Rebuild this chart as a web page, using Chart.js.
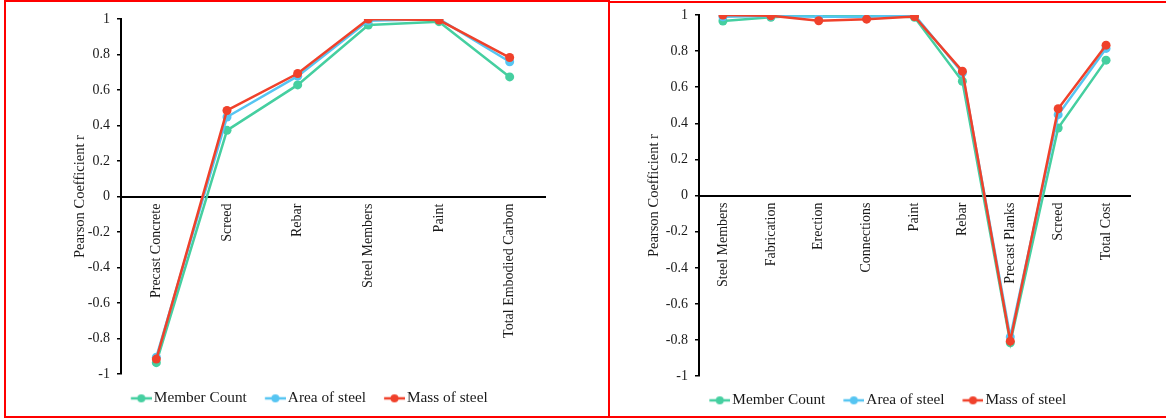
<!DOCTYPE html>
<html>
<head>
<meta charset="utf-8">
<script src="https://cdn.jsdelivr.net/npm/chart.js@4/dist/chart.umd.min.js"></script>
<style>
  body { margin: 0; background: #fff; width: 1166px; height: 419px; overflow: hidden; position: relative; }
  .frame { position: absolute; box-sizing: border-box; }
  #frameLeft { left: 4px; top: 0px; width: 606px; height: 418px; border: 2px solid #f00; }
  #lineTop { left: 609px; top: 1px; width: 557px; height: 2px; background: #f00; }
  #lineBottom { left: 609px; top: 416px; width: 557px; height: 2px; background: #f00; }
  .box { position: absolute; }
  #boxLeft { left: 6px; top: 4px; width: 600px; height: 412px; }
  #boxRight { left: 611px; top: 4px; width: 555px; height: 414px; }
</style>
</head>
<body>
<div class="frame" id="frameLeft"></div>
<div class="frame" id="lineTop"></div>
<div class="frame" id="lineBottom"></div>
<div class="box" id="boxLeft"><canvas id="chartLeft"></canvas></div>
<div class="box" id="boxRight"><canvas id="chartRight"></canvas></div>
<script>
// Datos de la gráfica izquierda (carbono incorporado)
const carbonLabels = ['Precast Concrete', 'Screed', 'Rebar', 'Steel Members', 'Paint', 'Total Embodied Carbon'];
const carbonMemberCount = [-0.935, 0.373, 0.629, 0.966, 0.985, 0.674];
const carbonAreaSteel = [-0.904, 0.448, 0.678, 0.99, 1.0, 0.759];
const carbonMassSteel = [-0.915, 0.485, 0.693, 1.0, 0.994, 0.783];

// Datos de la gráfica derecha (coste)
const costLabels = ['Steel Members', 'Fabrication', 'Erection', 'Connections', 'Paint', 'Rebar', 'Precast Planks', 'Screed', 'Total Cost'];
const costMemberCount = [0.967, 0.987, 1.0, 1.0, 0.987, 0.633, -0.815, 0.374, 0.75];
const costAreaSteel = [0.99, 0.994, 0.99, 0.99, 1.0, 0.68, -0.783, 0.448, 0.815];
const costMassSteel = [1.0, 0.996, 0.968, 0.977, 0.992, 0.689, -0.806, 0.481, 0.833];

const yTicks = { min: -1, max: 1, step: 0.2 };
const seriesNames = ['Member Count', 'Area of steel', 'Mass of steel'];
const seriesColors = ['#45cfa0', '#56c5f2', '#f0412b'];

const FONT = '"Liberation Serif", "Times New Roman", serif';
const TEXT = '#1a1a1a';
const LEGEND_SIZE = 15.3;
const LEGEND_PAD = 16.5;
const LEGEND_BOX = 33.35 - LEGEND_PAD;

// Icono de la leyenda: línea con un punto, pegada al texto
function legendIcon(color) {
    const w = Math.round(LEGEND_BOX + 11.3);
    const start = LEGEND_BOX - 9.7;
    const c = document.createElement('canvas');
    c.width = w;
    c.height = 10;
    const g = c.getContext('2d');
    g.strokeStyle = color;
    g.lineWidth = 2.5;
    g.beginPath();
    g.moveTo(start, 5);
    g.lineTo(w, 5);
    g.stroke();
    g.fillStyle = color;
    g.beginPath();
    g.arc((start + w) / 2, 5, 4, 0, Math.PI * 2);
    g.fill();
    return c;
}

function renderChart(canvasId, labels, series, layout) {
    const datasets = series.map((values, i) => ({
        label: seriesNames[i],
        data: values,
        borderColor: seriesColors[i],
        backgroundColor: seriesColors[i],
        borderWidth: 2.5,
        pointRadius: 4.5,
        pointHoverRadius: 4.5,
        pointBorderWidth: 0,
        tension: 0,
        order: 3 - i, // la serie roja encima
    }));

    const config = {
        type: 'line',
        data: { labels: labels, datasets: datasets },
        options: {
            responsive: true,
            maintainAspectRatio: false,
            animation: false,
            layout: { padding: layout.padding },
            plugins: {
                tooltip: { enabled: false },
                legend: {
                    position: 'bottom',
                    labels: {
                        usePointStyle: true,
                        pointStyleWidth: LEGEND_BOX,
                        padding: LEGEND_PAD,
                        color: TEXT,
                        font: { family: FONT, size: LEGEND_SIZE },
                        sort: (a, b) => a.datasetIndex - b.datasetIndex,
                        generateLabels: (chart) => {
                            const items = Chart.defaults.plugins.legend.labels.generateLabels(chart);
                            items.forEach(it => { it.pointStyle = legendIcon(seriesColors[it.datasetIndex]); });
                            return items;
                        },
                    },
                },
            },
            scales: {
                x: {
                    position: { y: 0 },
                    offset: true,
                    grid: { display: false, drawTicks: false, offset: true },
                    border: { display: true, color: '#000', width: 2 },
                    ticks: {
                        autoSkip: false,
                        minRotation: 90,
                        maxRotation: 90,
                        padding: 7,
                        color: TEXT,
                        font: { family: FONT, size: 14 },
                    },
                },
                y: {
                    min: yTicks.min,
                    max: yTicks.max,
                    afterFit: (scale) => {
                        scale.width = layout.axisWidth;
                        scale.paddingTop = 0;
                        scale.paddingBottom = 0;
                    },
                    grid: { display: true, drawOnChartArea: false, drawTicks: true, tickLength: 4, color: '#000', lineWidth: 1.5 },
                    border: { display: true, color: '#000', width: 2 },
                    ticks: {
                        stepSize: yTicks.step,
                        padding: 7,
                        color: TEXT,
                        font: { family: FONT, size: 14 },
                        callback: (v) => String(Number(v.toFixed(1))),
                    },
                    title: {
                        display: true,
                        text: 'Pearson Coefficient r',
                        color: TEXT,
                        font: { family: FONT, size: 14.5 },
                        padding: { top: layout.titleShift, bottom: 0 },
                    },
                },
            },
        },
    };

    const ctx = document.getElementById(canvasId).getContext('2d');
    return new Chart(ctx, config);
}

renderChart('chartLeft', carbonLabels, [carbonMemberCount, carbonAreaSteel, carbonMassSteel], {
    padding: { left: 66, right: 61, top: 15, bottom: 0 },
    axisWidth: 49,
    titleShift: -0.7,
});

renderChart('chartRight', costLabels, [costMemberCount, costAreaSteel, costMassSteel], {
    padding: { left: 33, right: 36, top: 11, bottom: 0 },
    axisWidth: 55,
    titleShift: 1.3,
});
</script>
</body>
</html>
